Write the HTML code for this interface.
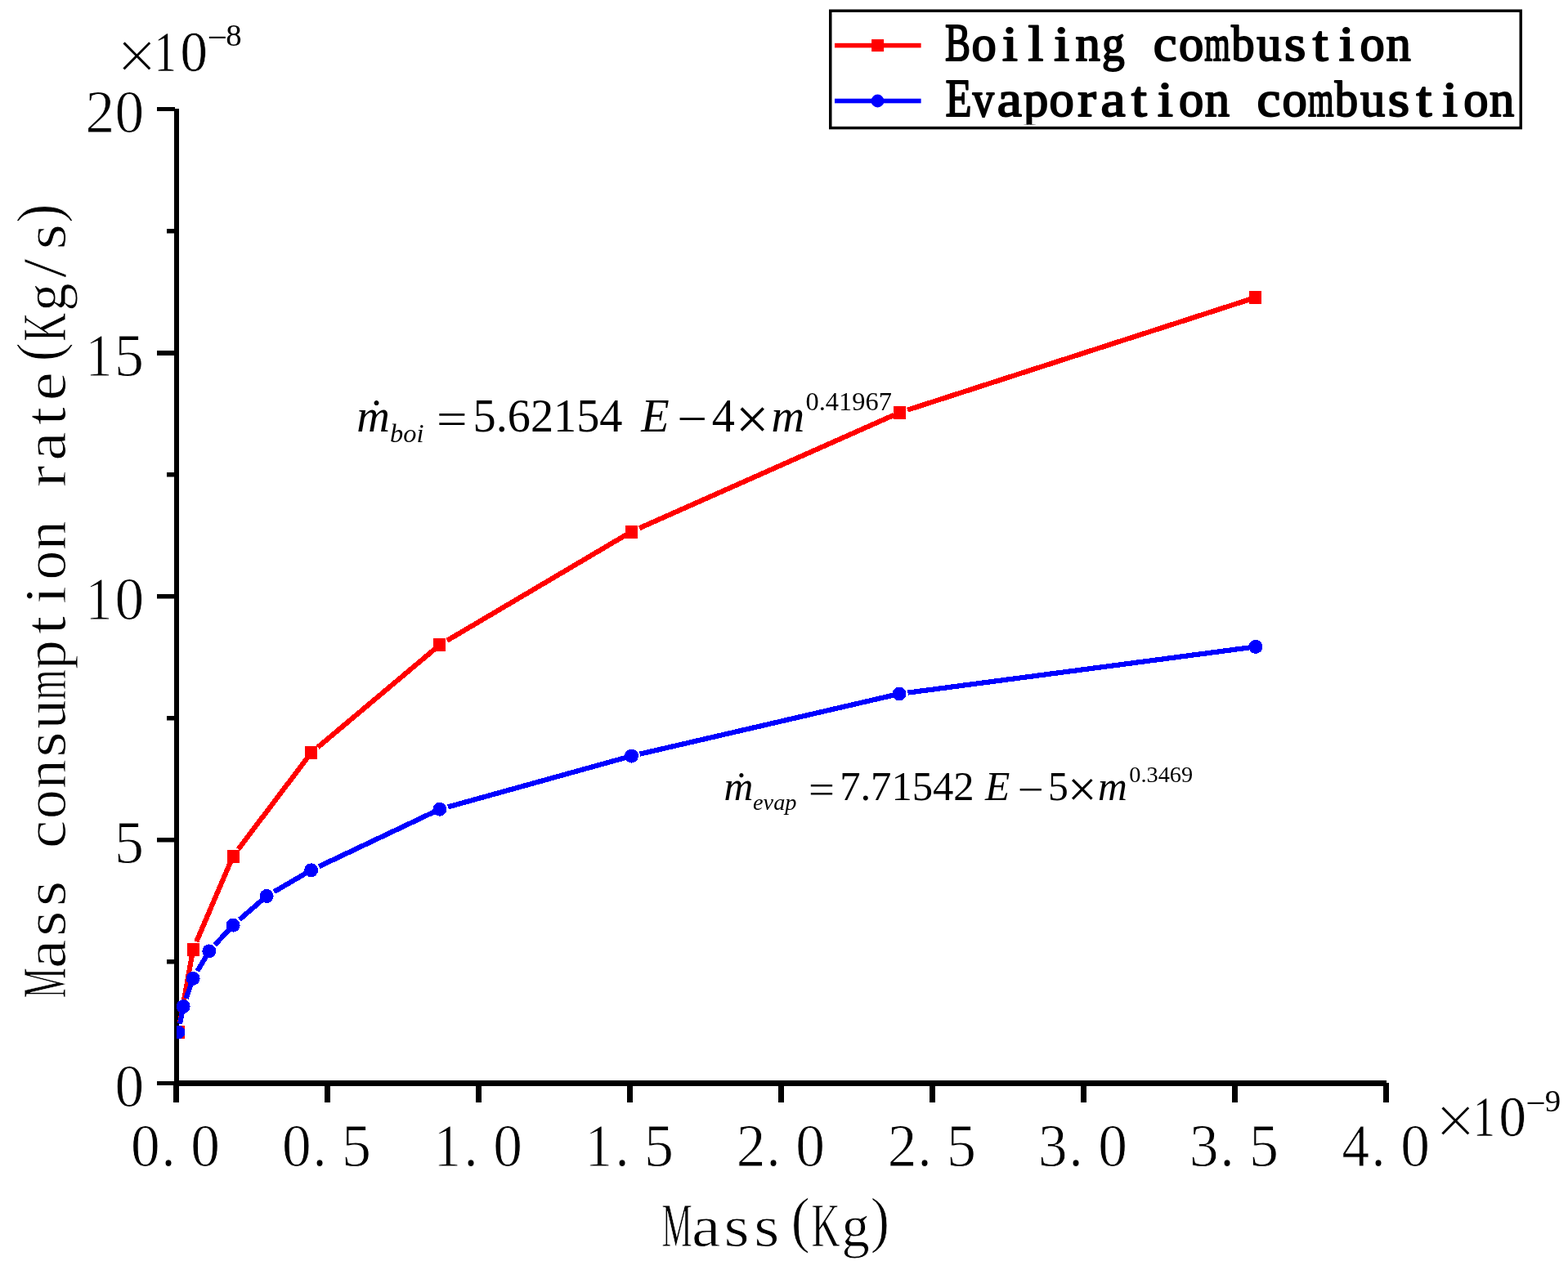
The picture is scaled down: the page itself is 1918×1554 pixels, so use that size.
<!DOCTYPE html>
<html lang="en">
<head>
<meta charset="utf-8">
<title>Mass consumption rate versus mass</title>
<style>
html,body{margin:0;padding:0;background:#fff;overflow:hidden}
svg{display:block}
text{white-space:pre}
</style>
</head>
<body>
<svg width="1918" height="1554" viewBox="0 0 1918 1554" role="img" aria-label="Mass consumption rate (Kg/s) versus Mass (Kg) for Boiling combustion and Evaporation combustion">
<rect width="1918" height="1554" fill="#fff"/>
<g fill="#000">
<rect x="213" y="133" width="6" height="1196"/>
<rect x="213" y="1322" width="1483" height="7"/>
<rect x="192" y="131" width="22" height="5"/>
<rect x="204" y="280" width="10" height="5.5"/>
<rect x="192" y="429" width="22" height="6"/>
<rect x="204" y="578" width="10" height="5.5"/>
<rect x="192" y="727" width="22" height="5.5"/>
<rect x="204" y="876" width="10" height="5.5"/>
<rect x="192" y="1025" width="22" height="5.5"/>
<rect x="204" y="1174" width="10" height="5.5"/>
<rect x="192" y="1323" width="22" height="5"/>
<rect x="212" y="1325" width="7" height="24"/>
<rect x="397" y="1325" width="7" height="24"/>
<rect x="582" y="1325" width="7" height="24"/>
<rect x="767" y="1325" width="7" height="24"/>
<rect x="952" y="1325" width="7" height="24"/>
<rect x="1137" y="1325" width="7" height="24"/>
<rect x="1322" y="1325" width="7" height="24"/>
<rect x="1507" y="1325" width="7" height="24"/>
<rect x="1692" y="1325" width="7" height="24"/>
</g>
<clipPath id="pc"><rect x="216" y="100" width="1500" height="1226"/></clipPath>
<g clip-path="url(#pc)" shape-rendering="crispEdges">
<path d="M219.95 1252.26L234.81 1169.19M240.23 1152.35L282.23 1054.21M291.43 1039.12L376.2 927.02M388.64 914.45L532.31 793.79M546.94 783.76L766.21 654.21M782.09 646.23L1093.33 507.87M1109.99 501.67L1528.95 366.25" stroke="#f00" stroke-width="6.2" fill="none"/>
<rect x="211" y="1255" width="15" height="16" fill="#f00"/>
<rect x="229" y="1154" width="15" height="16" fill="#f00"/>
<rect x="278" y="1040" width="15" height="16" fill="#f00"/>
<rect x="373" y="913" width="15" height="16" fill="#f00"/>
<rect x="530" y="781" width="15" height="16" fill="#f00"/>
<rect x="765" y="643" width="15" height="16" fill="#f00"/>
<rect x="1093" y="497" width="15" height="16" fill="#f00"/>
<rect x="1528" y="356" width="15" height="16" fill="#f00"/>
<path d="M220.1 1252.69L222.81 1238.67M227.65 1221.58L233.7 1204.19M241.43 1188.26L252.09 1170.19M262.91 1156.18L280.15 1137.47M293.03 1125.22L320.59 1101.29M335.18 1091.22L374.29 1068.47M390.09 1060.3L531.3 993.33M548.02 987.39L765.47 926.95M782.73 922.63L1092.89 850.65M1110.41 847.62L1528.66 792.36" stroke="#00f" stroke-width="6.2" fill="none"/>
<circle cx="218.1" cy="1263" r="8.5" fill="#00f"/>
<circle cx="224.2" cy="1231.5" r="8.5" fill="#00f"/>
<circle cx="236.1" cy="1197.3" r="8.5" fill="#00f"/>
<circle cx="255.8" cy="1163.9" r="8.5" fill="#00f"/>
<circle cx="285.1" cy="1132.1" r="8.5" fill="#00f"/>
<circle cx="326.1" cy="1096.5" r="8.5" fill="#00f"/>
<circle cx="380.6" cy="1064.8" r="8.5" fill="#00f"/>
<circle cx="537.9" cy="990.2" r="8.5" fill="#00f"/>
<circle cx="772.5" cy="925" r="8.5" fill="#00f"/>
<circle cx="1100" cy="849" r="8.5" fill="#00f"/>
<circle cx="1535.9" cy="791.4" r="8.5" fill="#00f"/>
</g>
<rect x="1015.75" y="13.25" width="844.5" height="143.3" fill="#fff" stroke="#000" stroke-width="3.5"/>
<rect x="1021" y="52.8" width="105.6" height="5.6" fill="#f00"/><rect x="1066.1" y="48.1" width="15" height="15" fill="#f00"/>
<rect x="1021" y="120.7" width="105.6" height="5.6" fill="#00f"/><circle cx="1073.5" cy="123.5" r="7.9" fill="#00f"/>
<g font-family="'Liberation Serif',serif" fill="#000">
<g stroke="#000" stroke-width="2" stroke-linejoin="round">
<text aria-label="Boiling combustion" y="74" font-size="65.3"><tspan x="1156.12" textLength="31.07" lengthAdjust="spacingAndGlyphs">B</tspan><tspan x="1188.53" font-size="60.5">o</tspan><tspan x="1226" textLength="18.83" lengthAdjust="spacingAndGlyphs" font-size="60.5">i</tspan><tspan x="1257.58" textLength="18.83" lengthAdjust="spacingAndGlyphs" font-size="60.5">l</tspan><tspan x="1289.34" textLength="18.83" lengthAdjust="spacingAndGlyphs" font-size="60.5">i</tspan><tspan x="1315.4" font-size="60.5">n</tspan><tspan x="1347.95" textLength="27.72" lengthAdjust="spacingAndGlyphs" font-size="60.5">g</tspan><tspan x="1376.89" font-size="60.5"> </tspan><tspan x="1410.8" textLength="28.74" lengthAdjust="spacingAndGlyphs" font-size="60.5">c</tspan><tspan x="1441.89" font-size="60.5">o</tspan><tspan x="1473.32" textLength="31.47" lengthAdjust="spacingAndGlyphs" font-size="60.5">m</tspan><tspan x="1506.15" textLength="28.35" lengthAdjust="spacingAndGlyphs" font-size="60.5">b</tspan><tspan x="1537.33" font-size="60.5">u</tspan><tspan x="1571.06" textLength="26.37" lengthAdjust="spacingAndGlyphs" font-size="60.5">s</tspan><tspan x="1605.82" textLength="18.83" lengthAdjust="spacingAndGlyphs" font-size="60.5">t</tspan><tspan x="1637.71" textLength="18.83" lengthAdjust="spacingAndGlyphs" font-size="60.5">i</tspan><tspan x="1663.58 1695.44" font-size="60.5">on</tspan></text>
<clipPath id="lc"><rect x="1140" y="80" width="716" height="72.6"/></clipPath>
<text aria-label="Evaporation combustion" y="142.3" font-size="65.3" clip-path="url(#lc)"><tspan x="1156.4" textLength="32.09" lengthAdjust="spacingAndGlyphs">E</tspan><tspan x="1189.77" textLength="26.19" lengthAdjust="spacingAndGlyphs" font-size="60.5">v</tspan><tspan x="1219.8" textLength="30.08" lengthAdjust="spacingAndGlyphs" font-size="60.5">a</tspan><tspan x="1251.98 1283.54" font-size="60.5">po</tspan><tspan x="1318.28" textLength="22.56" lengthAdjust="spacingAndGlyphs" font-size="60.5">r</tspan><tspan x="1346.48" textLength="30.08" lengthAdjust="spacingAndGlyphs" font-size="60.5">a</tspan><tspan x="1384.13" textLength="18.83" lengthAdjust="spacingAndGlyphs" font-size="60.5">t</tspan><tspan x="1416.02" textLength="18.83" lengthAdjust="spacingAndGlyphs" font-size="60.5">i</tspan><tspan x="1441.89 1473.75 1503.57" font-size="60.5">on </tspan><tspan x="1537.48" textLength="28.74" lengthAdjust="spacingAndGlyphs" font-size="60.5">c</tspan><tspan x="1568.57" font-size="60.5">o</tspan><tspan x="1600" textLength="31.47" lengthAdjust="spacingAndGlyphs" font-size="60.5">m</tspan><tspan x="1632.83" textLength="28.35" lengthAdjust="spacingAndGlyphs" font-size="60.5">b</tspan><tspan x="1664.01" font-size="60.5">u</tspan><tspan x="1697.74" textLength="26.37" lengthAdjust="spacingAndGlyphs" font-size="60.5">s</tspan><tspan x="1732.5" textLength="18.83" lengthAdjust="spacingAndGlyphs" font-size="60.5">t</tspan><tspan x="1764.39" textLength="18.83" lengthAdjust="spacingAndGlyphs" font-size="60.5">i</tspan><tspan x="1790.26 1822.12" font-size="60.5">on</tspan></text>
</g>
<g stroke="#fff" stroke-width="0.9">
<text aria-label="20" y="161.8" font-size="74.6"><tspan x="104.42" textLength="35.67" lengthAdjust="spacingAndGlyphs">2</tspan><tspan x="140.41" textLength="35.69" lengthAdjust="spacingAndGlyphs">0</tspan></text>
<text aria-label="15" y="459.8" font-size="74.6"><tspan x="104.73" textLength="32.81" lengthAdjust="spacingAndGlyphs">1</tspan><tspan x="140.05" textLength="35.96" lengthAdjust="spacingAndGlyphs">5</tspan></text>
<text aria-label="10" y="757.8" font-size="74.6"><tspan x="104.73" textLength="32.81" lengthAdjust="spacingAndGlyphs">1</tspan><tspan x="140.41" textLength="35.69" lengthAdjust="spacingAndGlyphs">0</tspan></text>
<text aria-label="5" y="1055.8" font-size="74.6"><tspan x="140.05" textLength="35.96" lengthAdjust="spacingAndGlyphs">5</tspan></text>
<text aria-label="0" y="1353.8" font-size="74.6"><tspan x="140.41" textLength="35.69" lengthAdjust="spacingAndGlyphs">0</tspan></text>
<text aria-label="0.0" y="1426.8" font-size="74.6"><tspan x="159.98" textLength="35.69" lengthAdjust="spacingAndGlyphs">0</tspan><tspan x="197.43" textLength="17.07" lengthAdjust="spacingAndGlyphs">.</tspan><tspan x="233.32" textLength="35.69" lengthAdjust="spacingAndGlyphs">0</tspan></text>
<text aria-label="0.5" y="1426.8" font-size="74.6"><tspan x="344.98" textLength="35.69" lengthAdjust="spacingAndGlyphs">0</tspan><tspan x="382.43" textLength="17.07" lengthAdjust="spacingAndGlyphs">.</tspan><tspan x="417.96" textLength="35.96" lengthAdjust="spacingAndGlyphs">5</tspan></text>
<text aria-label="1.0" y="1426.8" font-size="74.6"><tspan x="530.96" textLength="32.81" lengthAdjust="spacingAndGlyphs">1</tspan><tspan x="567.43" textLength="17.07" lengthAdjust="spacingAndGlyphs">.</tspan><tspan x="603.32" textLength="35.69" lengthAdjust="spacingAndGlyphs">0</tspan></text>
<text aria-label="1.5" y="1426.8" font-size="74.6"><tspan x="715.96" textLength="32.81" lengthAdjust="spacingAndGlyphs">1</tspan><tspan x="752.43" textLength="17.07" lengthAdjust="spacingAndGlyphs">.</tspan><tspan x="787.96" textLength="35.96" lengthAdjust="spacingAndGlyphs">5</tspan></text>
<text aria-label="2.0" y="1426.8" font-size="74.6"><tspan x="900.66" textLength="35.67" lengthAdjust="spacingAndGlyphs">2</tspan><tspan x="937.43" textLength="17.07" lengthAdjust="spacingAndGlyphs">.</tspan><tspan x="973.32" textLength="35.69" lengthAdjust="spacingAndGlyphs">0</tspan></text>
<text aria-label="2.5" y="1426.8" font-size="74.6"><tspan x="1085.66" textLength="35.67" lengthAdjust="spacingAndGlyphs">2</tspan><tspan x="1122.43" textLength="17.07" lengthAdjust="spacingAndGlyphs">.</tspan><tspan x="1157.96" textLength="35.96" lengthAdjust="spacingAndGlyphs">5</tspan></text>
<text aria-label="3.0" y="1426.8" font-size="74.6"><tspan x="1270.03" textLength="35.51" lengthAdjust="spacingAndGlyphs">3</tspan><tspan x="1307.43" textLength="17.07" lengthAdjust="spacingAndGlyphs">.</tspan><tspan x="1343.32" textLength="35.69" lengthAdjust="spacingAndGlyphs">0</tspan></text>
<text aria-label="3.5" y="1426.8" font-size="74.6"><tspan x="1455.03" textLength="35.51" lengthAdjust="spacingAndGlyphs">3</tspan><tspan x="1492.43" textLength="17.07" lengthAdjust="spacingAndGlyphs">.</tspan><tspan x="1527.96" textLength="35.96" lengthAdjust="spacingAndGlyphs">5</tspan></text>
<text aria-label="4.0" y="1426.8" font-size="74.6"><tspan x="1641.57" textLength="33.53" lengthAdjust="spacingAndGlyphs">4</tspan><tspan x="1677.43" textLength="17.07" lengthAdjust="spacingAndGlyphs">.</tspan><tspan x="1713.32" textLength="35.69" lengthAdjust="spacingAndGlyphs">0</tspan></text>
<text aria-label="Mass(Kg)" y="1524.6" font-size="75.2"><tspan x="809.62" textLength="37.08" lengthAdjust="spacingAndGlyphs">M</tspan><tspan x="846.09" textLength="35.54" lengthAdjust="spacingAndGlyphs" font-size="71.5">a</tspan><tspan x="885.52" textLength="31.16" lengthAdjust="spacingAndGlyphs" font-size="71.5">s</tspan><tspan x="922.19" textLength="31.16" lengthAdjust="spacingAndGlyphs" font-size="71.5">s</tspan><tspan x="967.87" textLength="22.82" lengthAdjust="spacingAndGlyphs" y="1517.6">(</tspan><tspan x="992.4" textLength="35.08" lengthAdjust="spacingAndGlyphs" y="1524.6">K</tspan><tspan x="1029.54" textLength="34.33" lengthAdjust="spacingAndGlyphs" font-size="71.5">g</tspan><tspan x="1064.7" textLength="23.3" lengthAdjust="spacingAndGlyphs" y="1517.6">)</tspan></text>
<text aria-label="Mass consumption rate(Kg/s)" y="0" font-size="75.2" transform="translate(80 1222) rotate(-90)"><tspan x="0.81" textLength="36.94" lengthAdjust="spacingAndGlyphs">M</tspan><tspan x="37.09" textLength="35.54" lengthAdjust="spacingAndGlyphs" font-size="71.5">a</tspan><tspan x="76.39" textLength="31.16" lengthAdjust="spacingAndGlyphs" font-size="71.5">s</tspan><tspan x="112.93" textLength="31.16" lengthAdjust="spacingAndGlyphs" font-size="71.5">s</tspan><tspan x="146.16"> </tspan><tspan x="184.03" textLength="34.3" lengthAdjust="spacingAndGlyphs" font-size="71.5">c</tspan><tspan x="220.09 256.81" font-size="71.5">on</tspan><tspan x="295.63" textLength="31.16" lengthAdjust="spacingAndGlyphs" font-size="71.5">s</tspan><tspan x="330.13" font-size="71.5">u</tspan><tspan x="365.49" textLength="37.19" lengthAdjust="spacingAndGlyphs" font-size="71.5">m</tspan><tspan x="402.92" font-size="71.5">p</tspan><tspan x="445.93" textLength="22.25" lengthAdjust="spacingAndGlyphs" font-size="71.5">t</tspan><tspan x="482.73" textLength="22.25" lengthAdjust="spacingAndGlyphs" font-size="71.5">i</tspan><tspan x="512.41 549.13 584.64" font-size="71.5">on </tspan><tspan x="625.67" textLength="26.67" lengthAdjust="spacingAndGlyphs" font-size="71.5">r</tspan><tspan x="658.27" textLength="35.54" lengthAdjust="spacingAndGlyphs" font-size="71.5">a</tspan><tspan x="701.71" textLength="22.25" lengthAdjust="spacingAndGlyphs" font-size="71.5">t</tspan><tspan x="731.73" textLength="35.06" lengthAdjust="spacingAndGlyphs" font-size="71.5">e</tspan><tspan x="779.69" textLength="22.74" lengthAdjust="spacingAndGlyphs" y="-7">(</tspan><tspan x="804.13" textLength="34.96" lengthAdjust="spacingAndGlyphs" y="0">K</tspan><tspan x="841.13" textLength="34.21" lengthAdjust="spacingAndGlyphs" font-size="71.5">g</tspan><tspan x="882.07" textLength="23.4" lengthAdjust="spacingAndGlyphs">/</tspan><tspan x="916.81" textLength="31.16" lengthAdjust="spacingAndGlyphs" font-size="71.5">s</tspan><tspan x="949.26" textLength="23.21" lengthAdjust="spacingAndGlyphs" y="-7">)</tspan></text>
</g>
<text aria-label="×10 −8"><tspan x="142.54" y="97.75" font-size="88" stroke="#fff" stroke-width="1.4">×</tspan><tspan x="188.86" y="87.2" font-size="68.8" textLength="26.98" lengthAdjust="spacingAndGlyphs" stroke="#fff" stroke-width="0.5">1</tspan><tspan x="220.46" y="87.2" font-size="68.8" textLength="33.39" lengthAdjust="spacingAndGlyphs" stroke="#fff" stroke-width="0.5">0</tspan><tspan x="253.66" y="60.18" font-size="43">−</tspan><tspan x="276.22" y="55.6" font-size="38.8">8</tspan></text>
<text aria-label="×10 −9"><tspan x="1755.54" y="1400.85" font-size="88" stroke="#fff" stroke-width="1.4">×</tspan><tspan x="1802.06" y="1390.3" font-size="68.8" textLength="26.98" lengthAdjust="spacingAndGlyphs" stroke="#fff" stroke-width="0.5">1</tspan><tspan x="1833.46" y="1390.3" font-size="68.8" textLength="33.39" lengthAdjust="spacingAndGlyphs" stroke="#fff" stroke-width="0.5">0</tspan><tspan x="1866.46" y="1364.08" font-size="43">−</tspan><tspan x="1889.75" y="1360.3" font-size="38.8">9</tspan></text>
<text aria-label="ṁ boi = 5.62154 E − 4 × m ^ 0.41967"><tspan x="436.17" y="527.8" font-size="56.3" font-style="italic">ṁ</tspan><tspan x="477" y="541.4" font-size="32.4" font-style="italic">boi</tspan><tspan x="533.98" y="532.26" font-size="58" textLength="37.57" lengthAdjust="spacingAndGlyphs">=</tspan><tspan x="578.53" y="527.8" font-size="56.3">5.62154</tspan><tspan x="762" y="527.8" font-size="56.3"> </tspan><tspan x="784.16" y="527.8" font-size="56.3" font-style="italic">E</tspan><tspan x="828.35" y="532.46" font-size="58" textLength="36.84" lengthAdjust="spacingAndGlyphs">−</tspan><tspan x="870.8" y="527.8" font-size="56.3">4</tspan><tspan x="899.77" y="536.65" font-size="72.5">×</tspan><tspan x="943.47" y="527.8" font-size="56.3" font-style="italic">m</tspan><tspan x="985.57" y="501.7" font-size="32.4">0.41967</tspan></text>
<text aria-label="ṁ evap = 7.71542 E − 5 × m ^ 0.3469"><tspan x="885.41" y="979.4" font-size="49.6" font-style="italic">ṁ</tspan><tspan x="921.03" y="990.7" font-size="28.3" font-style="italic">evap</tspan><tspan x="989.09" y="983.03" font-size="51" textLength="31.87" lengthAdjust="spacingAndGlyphs">=</tspan><tspan x="1027.16" y="979.4" font-size="49.6" textLength="164.53" lengthAdjust="spacingAndGlyphs">7.71542</tspan><tspan x="1190" y="979.4" font-size="49.6"> </tspan><tspan x="1205.08" y="979.4" font-size="49.6" font-style="italic">E</tspan><tspan x="1244.99" y="982.83" font-size="51" textLength="31.87" lengthAdjust="spacingAndGlyphs">−</tspan><tspan x="1281.92" y="979.4" font-size="49.6">5</tspan><tspan x="1306.12" y="987.13" font-size="63">×</tspan><tspan x="1343.11" y="979.4" font-size="49.6" font-style="italic">m</tspan><tspan x="1381.32" y="956.7" font-size="28.3">0.3469</tspan></text>
</g>
</svg>
</body>
</html>
